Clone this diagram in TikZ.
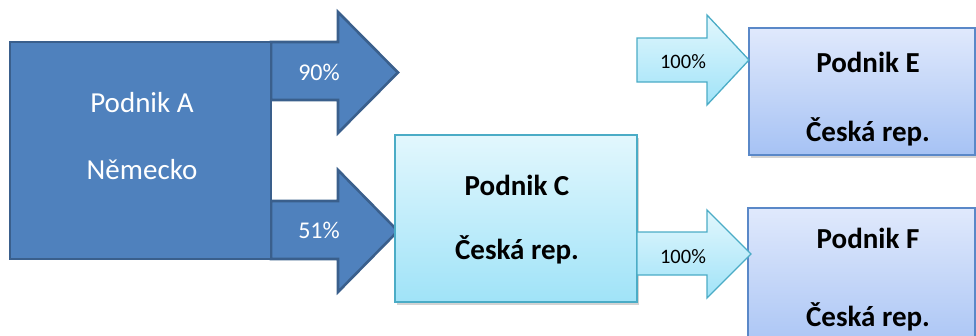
\documentclass[tikz,border=0pt]{standalone}
\usepackage{fontspec}
\setmainfont{Carlito}
\usetikzlibrary{positioning, shadows}

\definecolor{ablue}{HTML}{4F81BD}
\definecolor{aedge}{HTML}{3A5F8C}
\definecolor{cedge}{HTML}{4BACC6}
\definecolor{ctop}{HTML}{E2F7FD}
\definecolor{cbot}{HTML}{A0E3F8}
\definecolor{etop}{HTML}{E0E9FC}
\definecolor{ebot}{HTML}{A6C2F4}
\definecolor{eedge}{HTML}{5A88C8}

\tikzset{
  boxa/.style={draw=aedge, fill=ablue, line width=2.6pt},
  boxc/.style={draw=cedge, top color=ctop, bottom color=cbot, line width=1.3pt,
    drop shadow={shadow xshift=2pt, shadow yshift=-3pt, opacity=.35}},
  boxe/.style={draw=eedge, top color=etop, bottom color=ebot, line width=1.3pt,
    drop shadow={shadow xshift=2pt, shadow yshift=-3pt, opacity=.35}},
  darrow/.style={draw=aedge, fill=ablue, line width=2.6pt, line join=miter},
  larrow/.style={draw=cedge, top color=ctop, bottom color=cbot, line width=1.3pt, line join=miter},
  atext/.style={text=white, font=\fontsize{29}{35}\selectfont},
  btext/.style={font=\fontsize{29}{35}\selectfont\bfseries},
  apct/.style={text=white, font=\fontsize{24}{28}\selectfont},
  cpct/.style={font=\fontsize{20.5}{24}\selectfont}
}

\begin{document}
\begin{tikzpicture}[x=1pt, y=-1pt]
\useasboundingbox (0,0) rectangle (976,335);
% Arrows out of A
\draw[darrow] (271,42) -- (338,42) -- (338,12) -- (398,72.5) -- (338,133) -- (338,100) -- (271,100) -- cycle;
\draw[darrow] (271,201) -- (338,201) -- (338,170) -- (398,231) -- (338,292) -- (338,259) -- (271,259) -- cycle;
% Boxes
\node[boxa, minimum width=261pt, minimum height=217pt] (a) at (140.5,150.5) {};
\node[boxc, minimum width=242pt, minimum height=167pt] (c) at (516,218.5) {};
\node[boxe, minimum width=226pt, minimum height=127pt] (e) at (862,91.5) {};
\node[boxe, minimum width=227pt, minimum height=150pt] (f) at (861.5,283) {};
% Arrows into E and F
\draw[larrow] (637,38) -- (707,38) -- (707,15) -- (749,60) -- (707,105) -- (707,82) -- (637,82) -- cycle;
\draw[larrow] (637,232) -- (707,232) -- (707,210) -- (751,254) -- (707,298) -- (707,275) -- (637,275) -- cycle;
% Texts
\node[atext] (a1) at (142,103) {Podnik A};
\node[atext] (a2) at (142,170) {Německo};
\node[btext] (c1) at (517,185) {Podnik C};
\node[btext] (c2) at (517,250) {Česká rep.};
\node[btext] (e1) at (868,62) {Podnik E};
\node[btext] (e2) at (868,132) {Česká rep.};
\node[btext] (f1) at (868,238) {Podnik F};
\node[btext] (f2) at (868,317) {Česká rep.};
\node[apct] (p90) at (319,72) {90\%};
\node[apct] (p51) at (319,230) {51\%};
\node[cpct] (pe) at (683,62) {100\%};
\node[cpct] (pf) at (683,257) {100\%};
\end{tikzpicture}
\end{document}
